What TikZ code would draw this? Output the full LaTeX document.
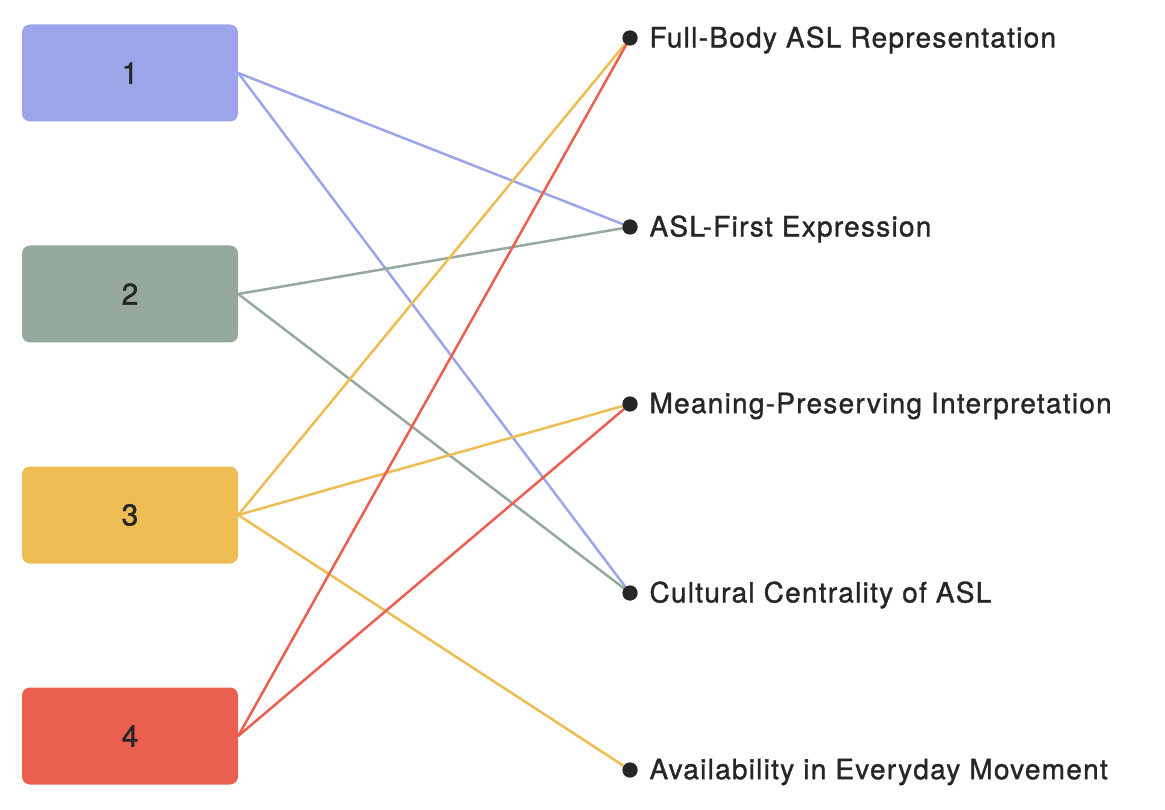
\documentclass[tikz,border=0pt]{standalone}
\usepackage{fontspec}
\setmainfont{TeX Gyre Heros}[FakeBold=1.2,LetterSpace=4.5]
\begin{document}
\begin{tikzpicture}[x=1pt,y=-1pt,
  box/.style={draw=none,rounded corners=8pt,minimum width=216pt,minimum height=97pt,font=\fontsize{30}{34}\selectfont,text=black!85},
  lbl/.style={anchor=west,font=\fontsize{28}{32}\selectfont,text=black!85},
  dot/.style={circle,fill=black!85,inner sep=0pt,minimum size=15pt},
  ln/.style={line width=2.5pt}]
\definecolor{c1}{HTML}{9DA5EA}\definecolor{c2}{HTML}{95A99C}
\definecolor{c3}{HTML}{EDBD53}\definecolor{c4}{HTML}{EB5F4F}
\useasboundingbox (0,0) rectangle (1165,810);
\node[box,fill=c1] (b1) at (130,73) {1};
\node[box,fill=c2] (b2) at (130,294) {2};
\node[box,fill=c3] (b3) at (130,515) {3};
\node[box,fill=c4] (b4) at (130,736) {4};
\node[dot] (d1) at (630,38) {};
\node[dot] (d2) at (630,227) {};
\node[dot] (d3) at (630,404) {};
\node[dot] (d4) at (630,593) {};
\node[dot] (d5) at (630,770) {};
\node[lbl] (l1) at (646,40) {Full-Body ASL Representation};
\node[lbl] (l2) at (646,229) {ASL-First Expression};
\node[lbl] (l3) at (646,406) {Meaning-Preserving Interpretation};
\node[lbl] (l4) at (646,595) {Cultural Centrality of ASL};
\node[lbl] (l5) at (646,772) {Availability in Everyday Movement};
\draw[ln,c1] (b1.east) -- (d2.center);
\draw[ln,c1] (b1.east) -- (d4.center);
\draw[ln,c2] (b2.east) -- (d2.center);
\draw[ln,c2] (b2.east) -- (d4.center);
\draw[ln,c3] (b3.east) -- (d1.center);
\draw[ln,c3] (b3.east) -- (d3.center);
\draw[ln,c3] (b3.east) -- (d5.center);
\draw[ln,c4] (b4.east) -- (d1.center);
\draw[ln,c4] (b4.east) -- (d3.center);
\foreach \d in {d1,d2,d3,d4,d5} \fill[black!85] (\d) circle (7.5pt);
\end{tikzpicture}
\end{document}
